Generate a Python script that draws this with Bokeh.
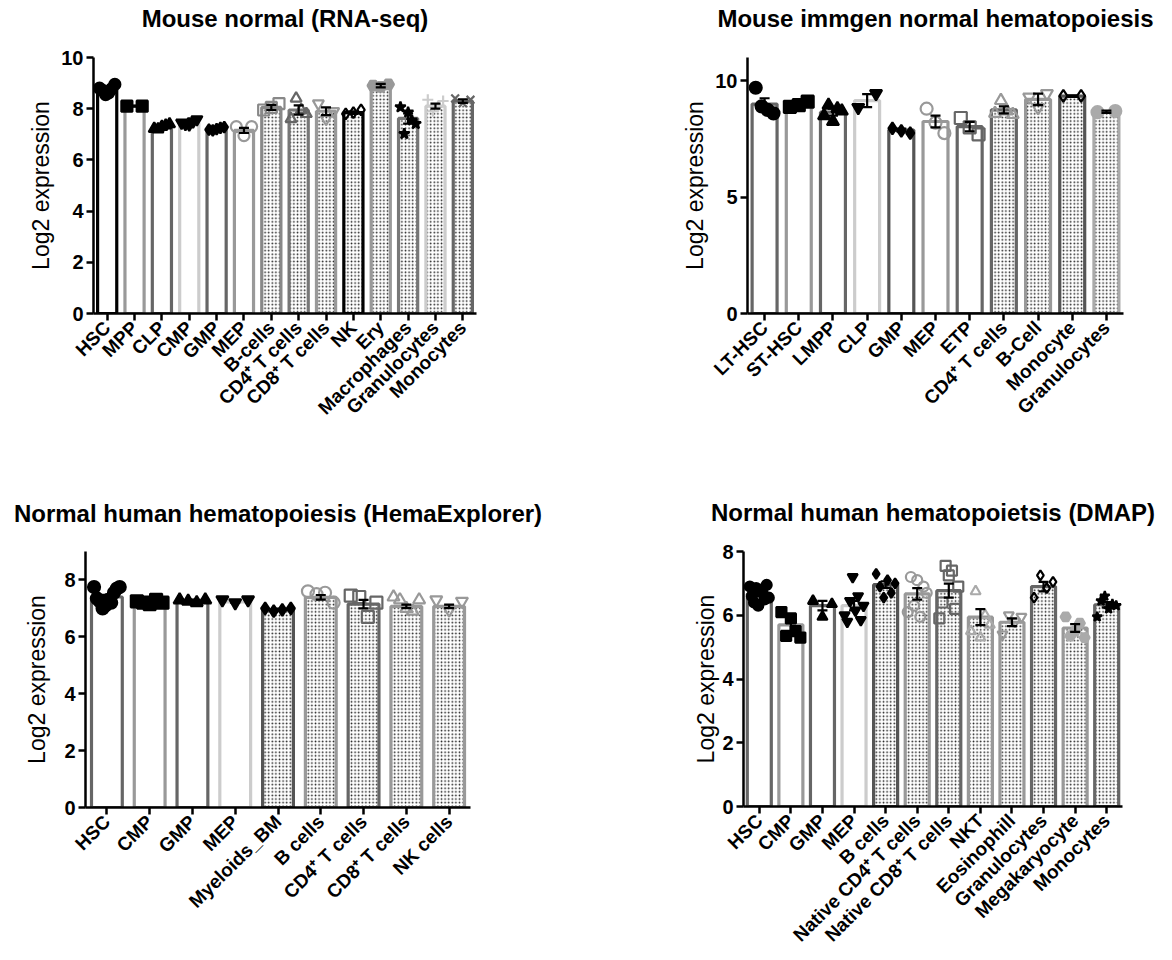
import math
import numpy as np
from bokeh.plotting import figure
from bokeh.models import ColumnDataSource, Range1d, FixedTicker, Whisker, TeeHead, Title
from bokeh.layouts import column, row
from bokeh.embed import file_html
from bokeh.resources import INLINE

FONT = "Liberation Sans"

# ---------------- Panel A: Mouse normal (RNA-seq) ----------------
a_title = "Mouse normal (RNA-seq)"
a_cats = ["HSC", "MPP", "CLP", "CMP", "GMP", "MEP", "B-cells", "CD4\u207a T cells",
          "CD8\u207a T cells", "NK", "Ery", "Macrophages", "Granulocytes", "Monocytes"]
a_means = [8.75, 8.10, 7.28, 7.45, 7.20, 7.15, 8.05, 7.95, 7.90, 7.85, 8.90, 7.62, 8.10, 8.30]
a_sems = [0.08, 0.02, 0.05, 0.05, 0.03, 0.10, 0.10, 0.18, 0.15, 0.05, 0.07, 0.20, 0.10, 0.07]
a_points = [
    [8.80, 8.72, 8.55, 8.62, 8.78, 8.95],
    [8.10, 8.10],
    [7.22, 7.20, 7.30, 7.35, 7.40],
    [7.45, 7.40, 7.38, 7.50, 7.58],
    [7.18, 7.15, 7.20, 7.25, 7.28],
    [7.30, 6.95, 7.30],
    [7.95, 8.05, 8.20],
    [7.60, 8.40, 7.95, 7.80],
    [8.20, 7.60, 7.90],
    [7.80, 7.85, 7.95],
    [8.90, 8.85, 8.95],
    [8.06, 7.02, 7.86, 7.55, 7.41],
    [8.35, 7.90, 8.10, 8.30],
    [8.40, 8.22, 8.35],
]
a_yticks = [0, 2, 4, 6, 8, 10]
a_ymax = 10

# ---------------- Panel B: Mouse immgen ----------------
b_title = "Mouse immgen normal hematopoiesis"
b_cats = ["LT-HSC", "ST-HSC", "LMPP", "CLP", "GMP", "MEP", "ETP", "CD4\u207a T cells",
          "B-Cell", "Monocyte", "Granulocytes"]
b_means = [9.00, 8.98, 8.65, 9.15, 7.88, 8.25, 8.03, 8.75, 9.20, 9.34, 8.67]
b_sems = [0.25, 0.07, 0.15, 0.28, 0.06, 0.25, 0.20, 0.15, 0.25, 0.03, 0.05]
b_points = [
    [9.70, 8.90, 8.75, 8.60],
    [8.88, 8.95, 9.10],
    [8.50, 8.95, 8.25, 8.80, 8.70],
    [8.85, 9.45],
    [7.95, 7.85, 7.75],
    [8.80, 8.20, 7.75],
    [8.40, 8.00, 7.70],
    [8.60, 9.15, 8.70, 8.55],
    [9.30, 8.85, 9.45],
    [9.35, 9.35],
    [8.65, 8.70],
]
b_yticks = [0, 5, 10]
b_ymax = 11

# ---------------- Panel C: HemaExplorer ----------------
c_title = "Normal human hematopoiesis (HemaExplorer)"
c_cats = ["HSC", "CMP", "GMP", "MEP", "Myeloids_BM", "B cells", "CD4\u207a T cells",
          "CD8\u207a T cells", "NK cells"]
c_means = [7.40, 7.23, 7.28, 7.23, 6.96, 7.39, 7.15, 7.07, 7.07]
c_sems = [0.08, 0.03, 0.03, 0.03, 0.03, 0.08, 0.15, 0.06, 0.06]
c_points = [
    [7.75, 7.35, 7.25, 7.00, 7.10, 7.30, 7.20, 7.55, 7.70, 7.75],
    [7.25, 7.20, 7.15, 7.30, 7.20],
    [7.30, 7.25, 7.20, 7.30],
    [7.30, 7.20, 7.30],
    [7.00, 6.90, 6.95, 7.00],
    [7.60, 7.50, 7.55, 7.20],
    [7.45, 7.40, 6.70, 7.20],
    [7.40, 7.30, 7.00, 6.90, 7.30],
    [7.30, 6.95, 7.25],
]
c_yticks = [0, 2, 4, 6, 8]
c_ymax = 9

# ---------------- Panel D: DMAP ----------------
d_title = "Normal human hematopoietsis (DMAP)"
d_cats = ["HSC", "CMP", "GMP", "MEP", "B cells", "Native CD4\u207a T cells",
          "Native CD8\u207a T cells", "NKT", "Eosinophill", "Granulocytes",
          "Megakaryocyte", "Monocytes"]
d_means = [6.67, 5.70, 6.30, 6.30, 6.96, 6.67, 6.77, 5.94, 5.78, 6.90, 5.60, 6.33]
d_sems = [0.07, 0.25, 0.15, 0.15, 0.10, 0.18, 0.22, 0.25, 0.12, 0.15, 0.12, 0.08]
d_points = [
    [6.90, 6.60, 6.40, 6.85, 6.30, 6.80, 6.70, 6.50, 6.95, 6.55],
    [6.10, 5.35, 5.90, 5.50, 5.30],
    [6.45, 5.95, 6.35],
    [6.00, 5.80, 6.45, 7.20, 6.15, 6.60, 5.85, 6.30],
    [7.30, 6.90, 6.55, 7.10, 6.70, 7.00],
    [6.10, 7.20, 6.30, 7.10, 5.95, 6.90, 6.70],
    [5.90, 6.40, 7.55, 7.25, 7.40, 6.20, 6.90],
    [5.50, 6.75, 5.30, 6.00, 5.70],
    [5.40, 6.00, 5.80, 5.95],
    [6.55, 7.25, 6.85, 7.05],
    [5.95, 5.35, 5.50, 5.75, 5.30],
    [5.95, 6.45, 6.60, 6.20, 6.35, 6.30],
]
d_yticks = [0, 2, 4, 6, 8]
d_ymax = 8

# ---------------- styles ----------------
a_style = dict(
    edge=["#000000", "#999999", "#666666", "#cccccc", "#666666", "#999999", "#888888",
          "#777777", "#999999", "#000000", "#999999", "#777777", "#cccccc", "#666666"],
    dotted=[False] * 6 + [True] * 8,
    marker=["circle", "square", "triangle", "inverted_triangle", "diamond", "circle", "square",
            "triangle", "inverted_triangle", "diamond", "hex", "star", "cross", "x"],
    mcolor=["black", "black", "black", "black", "black", "#999999", "#888888", "#666666",
            "#999999", "black", "#999999", "black", "#cccccc", "#666666"],
    mfill=[True] * 5 + [False] * 5 + [True] * 4,
)
b_style = dict(
    edge=["#666666", "#999999", "#666666", "#cccccc", "#555555", "#999999", "#666666",
          "#666666", "#999999", "#555555", "#aaaaaa"],
    dotted=[False] * 7 + [True] * 4,
    marker=["circle", "square", "triangle", "inverted_triangle", "diamond", "circle", "square",
            "triangle", "inverted_triangle", "diamond", "circle"],
    mcolor=["black", "black", "black", "black", "black", "#999999", "#666666", "#999999",
            "#999999", "black", "#aaaaaa"],
    mfill=[True] * 5 + [False] * 5 + [True],
)
c_style = dict(
    edge=["#666666", "#999999", "#666666", "#cccccc", "#555555", "#999999", "#666666",
          "#999999", "#999999"],
    dotted=[False] * 4 + [True] * 5,
    marker=["circle", "square", "triangle", "inverted_triangle", "diamond", "circle", "square",
            "triangle", "inverted_triangle"],
    mcolor=["black", "black", "black", "black", "black", "#999999", "#666666", "#999999",
            "#999999"],
    mfill=[True] * 5 + [False] * 4,
)
d_style = dict(
    edge=["#666666", "#999999", "#666666", "#cccccc", "#555555", "#999999", "#666666",
          "#999999", "#999999", "#666666", "#999999", "#666666"],
    dotted=[False] * 4 + [True] * 8,
    marker=["circle", "square", "triangle", "inverted_triangle", "diamond", "circle", "square",
            "triangle", "inverted_triangle", "diamond", "hex", "star"],
    mcolor=["black", "black", "black", "black", "black", "#999999", "#666666", "#aaaaaa",
            "#999999", "black", "#aaaaaa", "black"],
    mfill=[True] * 5 + [False] * 5 + [True] * 2,
)


def make_panel(title, cats, means, sems, points, ymax, yticks, style, geo):
    n = len(cats)
    idx = list(range(n))
    p = figure(frame_width=geo["fw"], frame_height=geo["fh"],
               min_border_left=geo["l"], min_border_right=geo["r"],
               min_border_top=geo["t"], min_border_bottom=geo["b"],
               x_range=Range1d(-0.5, n - 0.5), y_range=Range1d(0, ymax),
               output_backend="svg", toolbar_location=None, tools="")
    p.outline_line_color = None
    p.grid.visible = False
    p.background_fill_color = "white"
    p.border_fill_color = "white"

    bars = ColumnDataSource(dict(
        x=idx, top=means, edge=style["edge"],
        hatch=["dot" if d else " " for d in style["dotted"]],
    ))
    p.vbar(x="x", top="top", bottom=0, width=geo["bw"], source=bars,
           fill_color="white", line_color="edge", line_width=3.2,
           hatch_pattern="hatch", hatch_color="#1e1e1e", hatch_scale=3.6,
           hatch_weight=1.2)

    xs, ys, mk, lc, fc, fa = [], [], [], [], [], []
    spread = geo["spread"]
    for i, vals in enumerate(points):
        k = len(vals)
        offs = np.linspace(-spread, spread, k) if k > 1 else [0.0]
        for o, v in zip(offs, vals):
            xs.append(i + float(o))
            ys.append(v)
            mk.append(style["marker"][i])
            lc.append(style["mcolor"][i])
            fc.append(style["mcolor"][i] if style["mfill"][i] else "white")
            fa.append(1.0 if style["mfill"][i] else 0.0)
    pts = ColumnDataSource(dict(x=xs, y=ys, m=mk, lc=lc, fc=fc, fa=fa))
    p.scatter(x="x", y="y", marker="m", size=geo["ms"], line_color="lc",
              fill_color="fc", fill_alpha="fa", line_width=2.2, source=pts)

    err = ColumnDataSource(dict(
        x=idx,
        lo=[m - s for m, s in zip(means, sems)],
        hi=[m + s for m, s in zip(means, sems)],
    ))
    w = Whisker(base="x", upper="hi", lower="lo", source=err,
                line_color="black", line_width=2.2, level="overlay",
                upper_head=TeeHead(size=10, line_width=2.2, line_color="black"),
                lower_head=TeeHead(size=10, line_width=2.2, line_color="black"))
    p.add_layout(w)

    for ax in (p.xaxis[0], p.yaxis[0]):
        ax.axis_line_width = 2.5
        ax.axis_line_color = "black"
        ax.major_tick_line_width = 2.5
        ax.major_tick_line_color = "black"
        ax.major_tick_out = 7
        ax.major_tick_in = 0
        ax.minor_tick_line_color = None
        ax.major_label_text_font = FONT
        ax.major_label_text_font_style = "bold"
        ax.major_label_text_color = "black"

    p.xaxis.ticker = FixedTicker(ticks=idx)
    p.xaxis.major_label_overrides = {i: c for i, c in enumerate(cats)}
    p.xaxis.major_label_orientation = math.pi / 4
    p.xaxis.major_label_text_font_size = "19px"
    p.xaxis.major_label_standoff = 4

    p.yaxis.ticker = FixedTicker(ticks=yticks)
    p.yaxis.major_label_text_font_size = "20px"
    p.yaxis.major_label_standoff = 3
    p.yaxis.axis_label = "Log2 expression"
    p.yaxis.axis_label_text_font = FONT
    p.yaxis.axis_label_text_font_style = "normal"
    p.yaxis.axis_label_text_font_size = "23px"
    p.yaxis.axis_label_text_color = "black"
    p.yaxis.axis_label_standoff = geo["ls"]

    # spacer between frame and title, then the title itself (stacked outward)
    p.add_layout(Title(text=" ", text_font_size="10px", standoff=geo["sp"]), "above")
    p.add_layout(Title(text=title, text_font=FONT, text_font_size="24px",
                       text_font_style="bold", text_color="black", align="center",
                       standoff=2), "above")
    return p


geo_a = dict(l=93, fw=383, r=110, t=57, fh=256, b=167, bw=0.70, ms=11, spread=0.28, ls=4, sp=12)
geo_b = dict(l=161, fw=376, r=41, t=57, fh=256, b=167, bw=0.73, ms=12, spread=0.26, ls=4, sp=12)
geo_c = dict(l=85, fw=385, r=116, t=70, fh=256, b=154, bw=0.72, ms=12, spread=0.30, ls=11, sp=11)
geo_d = dict(l=157, fw=379, r=42, t=71, fh=255, b=154, bw=0.76, ms=10, spread=0.30, ls=0, sp=12)

p1 = make_panel(a_title, a_cats, a_means, a_sems, a_points, a_ymax, a_yticks, a_style, geo_a)
p2 = make_panel(b_title, b_cats, b_means, b_sems, b_points, b_ymax, b_yticks, b_style, geo_b)
p3 = make_panel(c_title, c_cats, c_means, c_sems, c_points, c_ymax, c_yticks, c_style, geo_c)
p4 = make_panel(d_title, d_cats, d_means, d_sems, d_points, d_ymax, d_yticks, d_style, geo_d)

layout = column(row(p1, p2), row(p3, p4))
open("out.html", "w").write(file_html(layout, INLINE))
